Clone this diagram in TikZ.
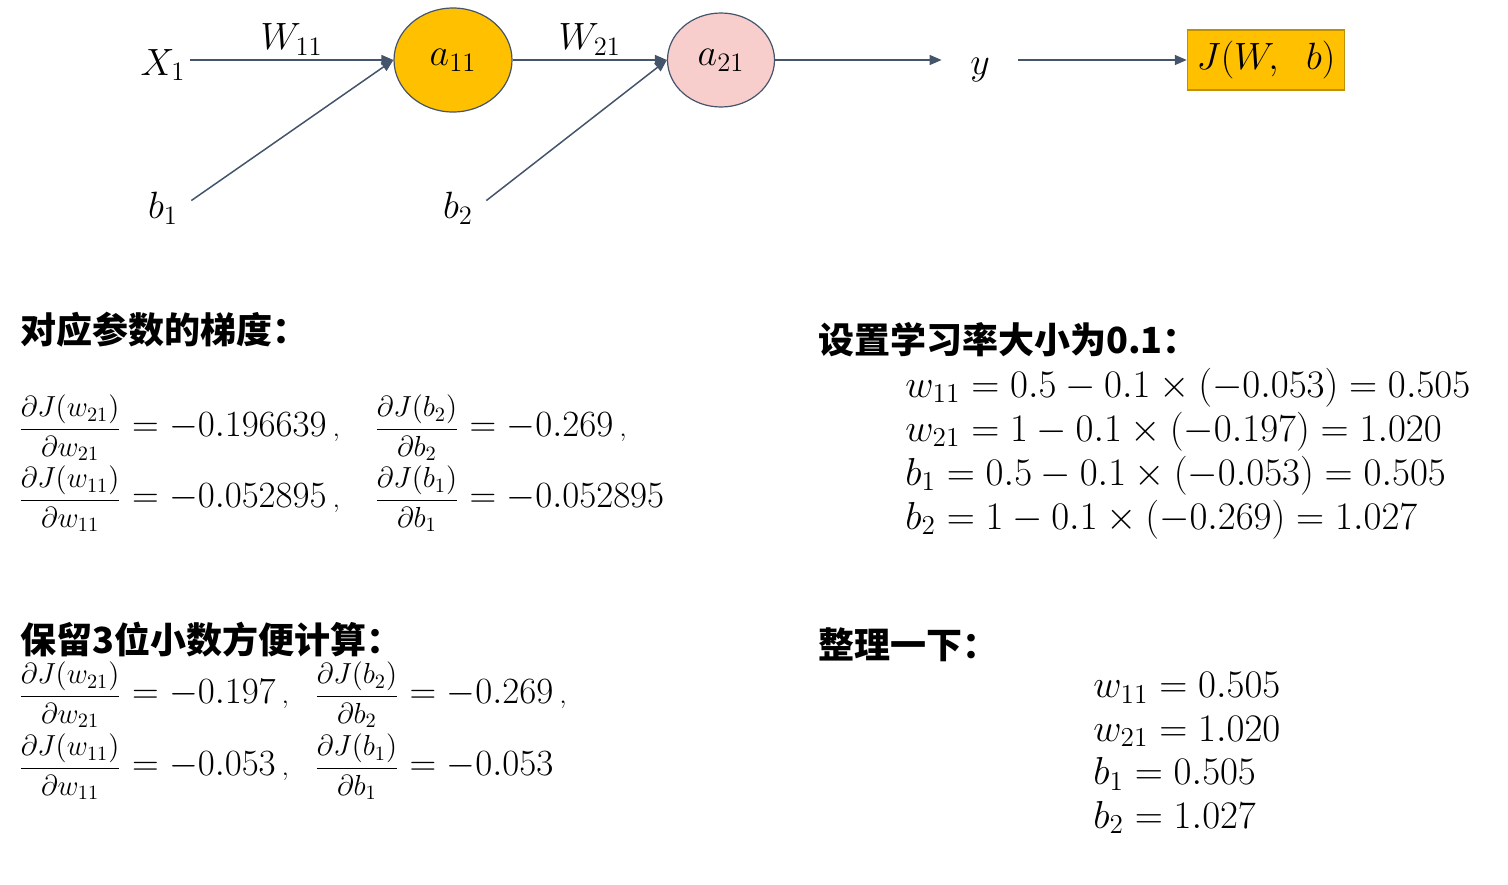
\RequirePackage{fix-cm}
\documentclass[tikz,border=0pt]{standalone}
\usepackage{amsmath}
\usepackage{fontspec}
\usetikzlibrary{arrows.meta,shapes.geometric}
\newfontfamily\cjk{Noto Sans CJK SC}
\definecolor{gold}{RGB}{255,192,0}
\definecolor{goldline}{RGB}{191,144,0}
\definecolor{pinkfill}{RGB}{248,206,204}
\definecolor{slate}{RGB}{68,84,106}
\newcommand{\pfr}[2]{\mbox{\fontsize{14.5}{17}\selectfont$\dfrac{#1}{#2}$}}
\tikzstyle{neuron} = [draw=slate, ellipse, line width=0.6pt, inner sep=0pt,
    font=\fontsize{19}{23}\selectfont]
\tikzstyle{lbl} = [inner sep=2pt, font=\fontsize{19}{23}\selectfont]
\tikzstyle{conn} = [-{Triangle[length=6pt,width=5pt]}, draw=slate, line width=0.75pt]
\tikzstyle{head} = [anchor=west, inner sep=0pt, font=\cjk\bfseries\fontsize{18}{22}\selectfont]
\tikzstyle{eq} = [anchor=west, inner sep=0pt, font=\fontsize{18.5}{22}\selectfont]
\tikzstyle{upd} = [anchor=base west, inner sep=0pt, font=\fontsize{19.5}{24}\selectfont]

\begin{document}
\begin{tikzpicture}[x=0.5pt,y=-0.5pt]
    \useasboundingbox (0,0) rectangle (1508,884);
    % network
    \node [lbl] (X1) at (163,65) {$X_1$};
    \node [lbl] (b1) at (163,208) {$b_1$};
    \node [neuron, fill=gold, minimum width=59pt, minimum height=52pt] (a11) at (453,60) {$a_{11}$};
    \node [lbl] (b2) at (458,208) {$b_2$};
    \node [neuron, fill=pinkfill, minimum width=53.5pt, minimum height=47pt] (a21) at (721,60) {$a_{21}$};
    \node [lbl, minimum width=38pt] (y) at (980,70) {$y$};
    \node [draw=goldline, fill=gold, line width=0.75pt, minimum width=78.5pt, minimum height=30pt,
        font=\fontsize{19}{23}\selectfont] (J) at (1266,60) {$J(W,\;\; b)$};
    \draw [conn] (X1.east |- a11) -- node [lbl, above] {$W_{11}$} (a11);
    \draw [conn] ([shift={(4.5pt,-6.5pt)}]b1.north east) -- (a11.west);
    \draw [conn] (a11) -- node [lbl, above] {$W_{21}$} (a21);
    \draw [conn] ([shift={(4.5pt,-6.5pt)}]b2.north east) -- (a21.west);
    \draw [conn] (a21) -- (a21 -| y.west);
    \draw [conn] (y.east |- J) -- (J);
    % gradients
    \node [head] (hgrad) at (20,330) {对应参数的梯度：};
    \node [eq] (g1a) at (18,428) {$\pfr{\partial J(w_{21})}{\partial w_{21}} = -0.196639\,{\scriptstyle,}$};
    \node [eq] (g1b) at (374,428) {$\pfr{\partial J(b_2)}{\partial b_2} = -0.269\,{\scriptstyle,}$};
    \node [eq] (g2a) at (18,499) {$\pfr{\partial J(w_{11})}{\partial w_{11}} = -0.052895\,{\scriptstyle,}$};
    \node [eq] (g2b) at (374,499) {$\pfr{\partial J(b_1)}{\partial b_1} = -0.052895$};
    % rounded
    \node [head] (hround) at (20,640) {保留3位小数方便计算：};
    \node [eq] (r1a) at (18,695) {$\pfr{\partial J(w_{21})}{\partial w_{21}} = -0.197\,{\scriptstyle,}$};
    \node [eq] (r1b) at (314,695) {$\pfr{\partial J(b_2)}{\partial b_2} = -0.269\,{\scriptstyle,}$};
    \node [eq] (r2a) at (18,767) {$\pfr{\partial J(w_{11})}{\partial w_{11}} = -0.053\,{\scriptstyle,}$};
    \node [eq] (r2b) at (314,767) {$\pfr{\partial J(b_1)}{\partial b_1} = -0.053$};
    % learning rate
    \node [head] (hlr) at (818,340) {设置学习率大小为0.1：};
    \foreach \e [count=\i] in {{w_{11} = 0.5 - 0.1 \times (-0.053) = 0.505},
                               {w_{21} = 1 - 0.1 \times (-0.197) = 1.020},
                               {b_1 = 0.5 - 0.1 \times (-0.053) = 0.505},
                               {b_2 = 1 - 0.1 \times (-0.269) = 1.027}}
        \node [upd] (u\i) at (905,353+44*\i) {$\e$};
    % summary
    \node [head] (htidy) at (818,645) {整理一下：};
    \foreach \e [count=\i] in {{w_{11} = 0.505}, {w_{21} = 1.020},
                               {b_1 = 0.505}, {b_2 = 1.027}}
        \node [upd] (s\i) at (1093,654+43.5*\i) {$\e$};
\end{tikzpicture}
\end{document}
